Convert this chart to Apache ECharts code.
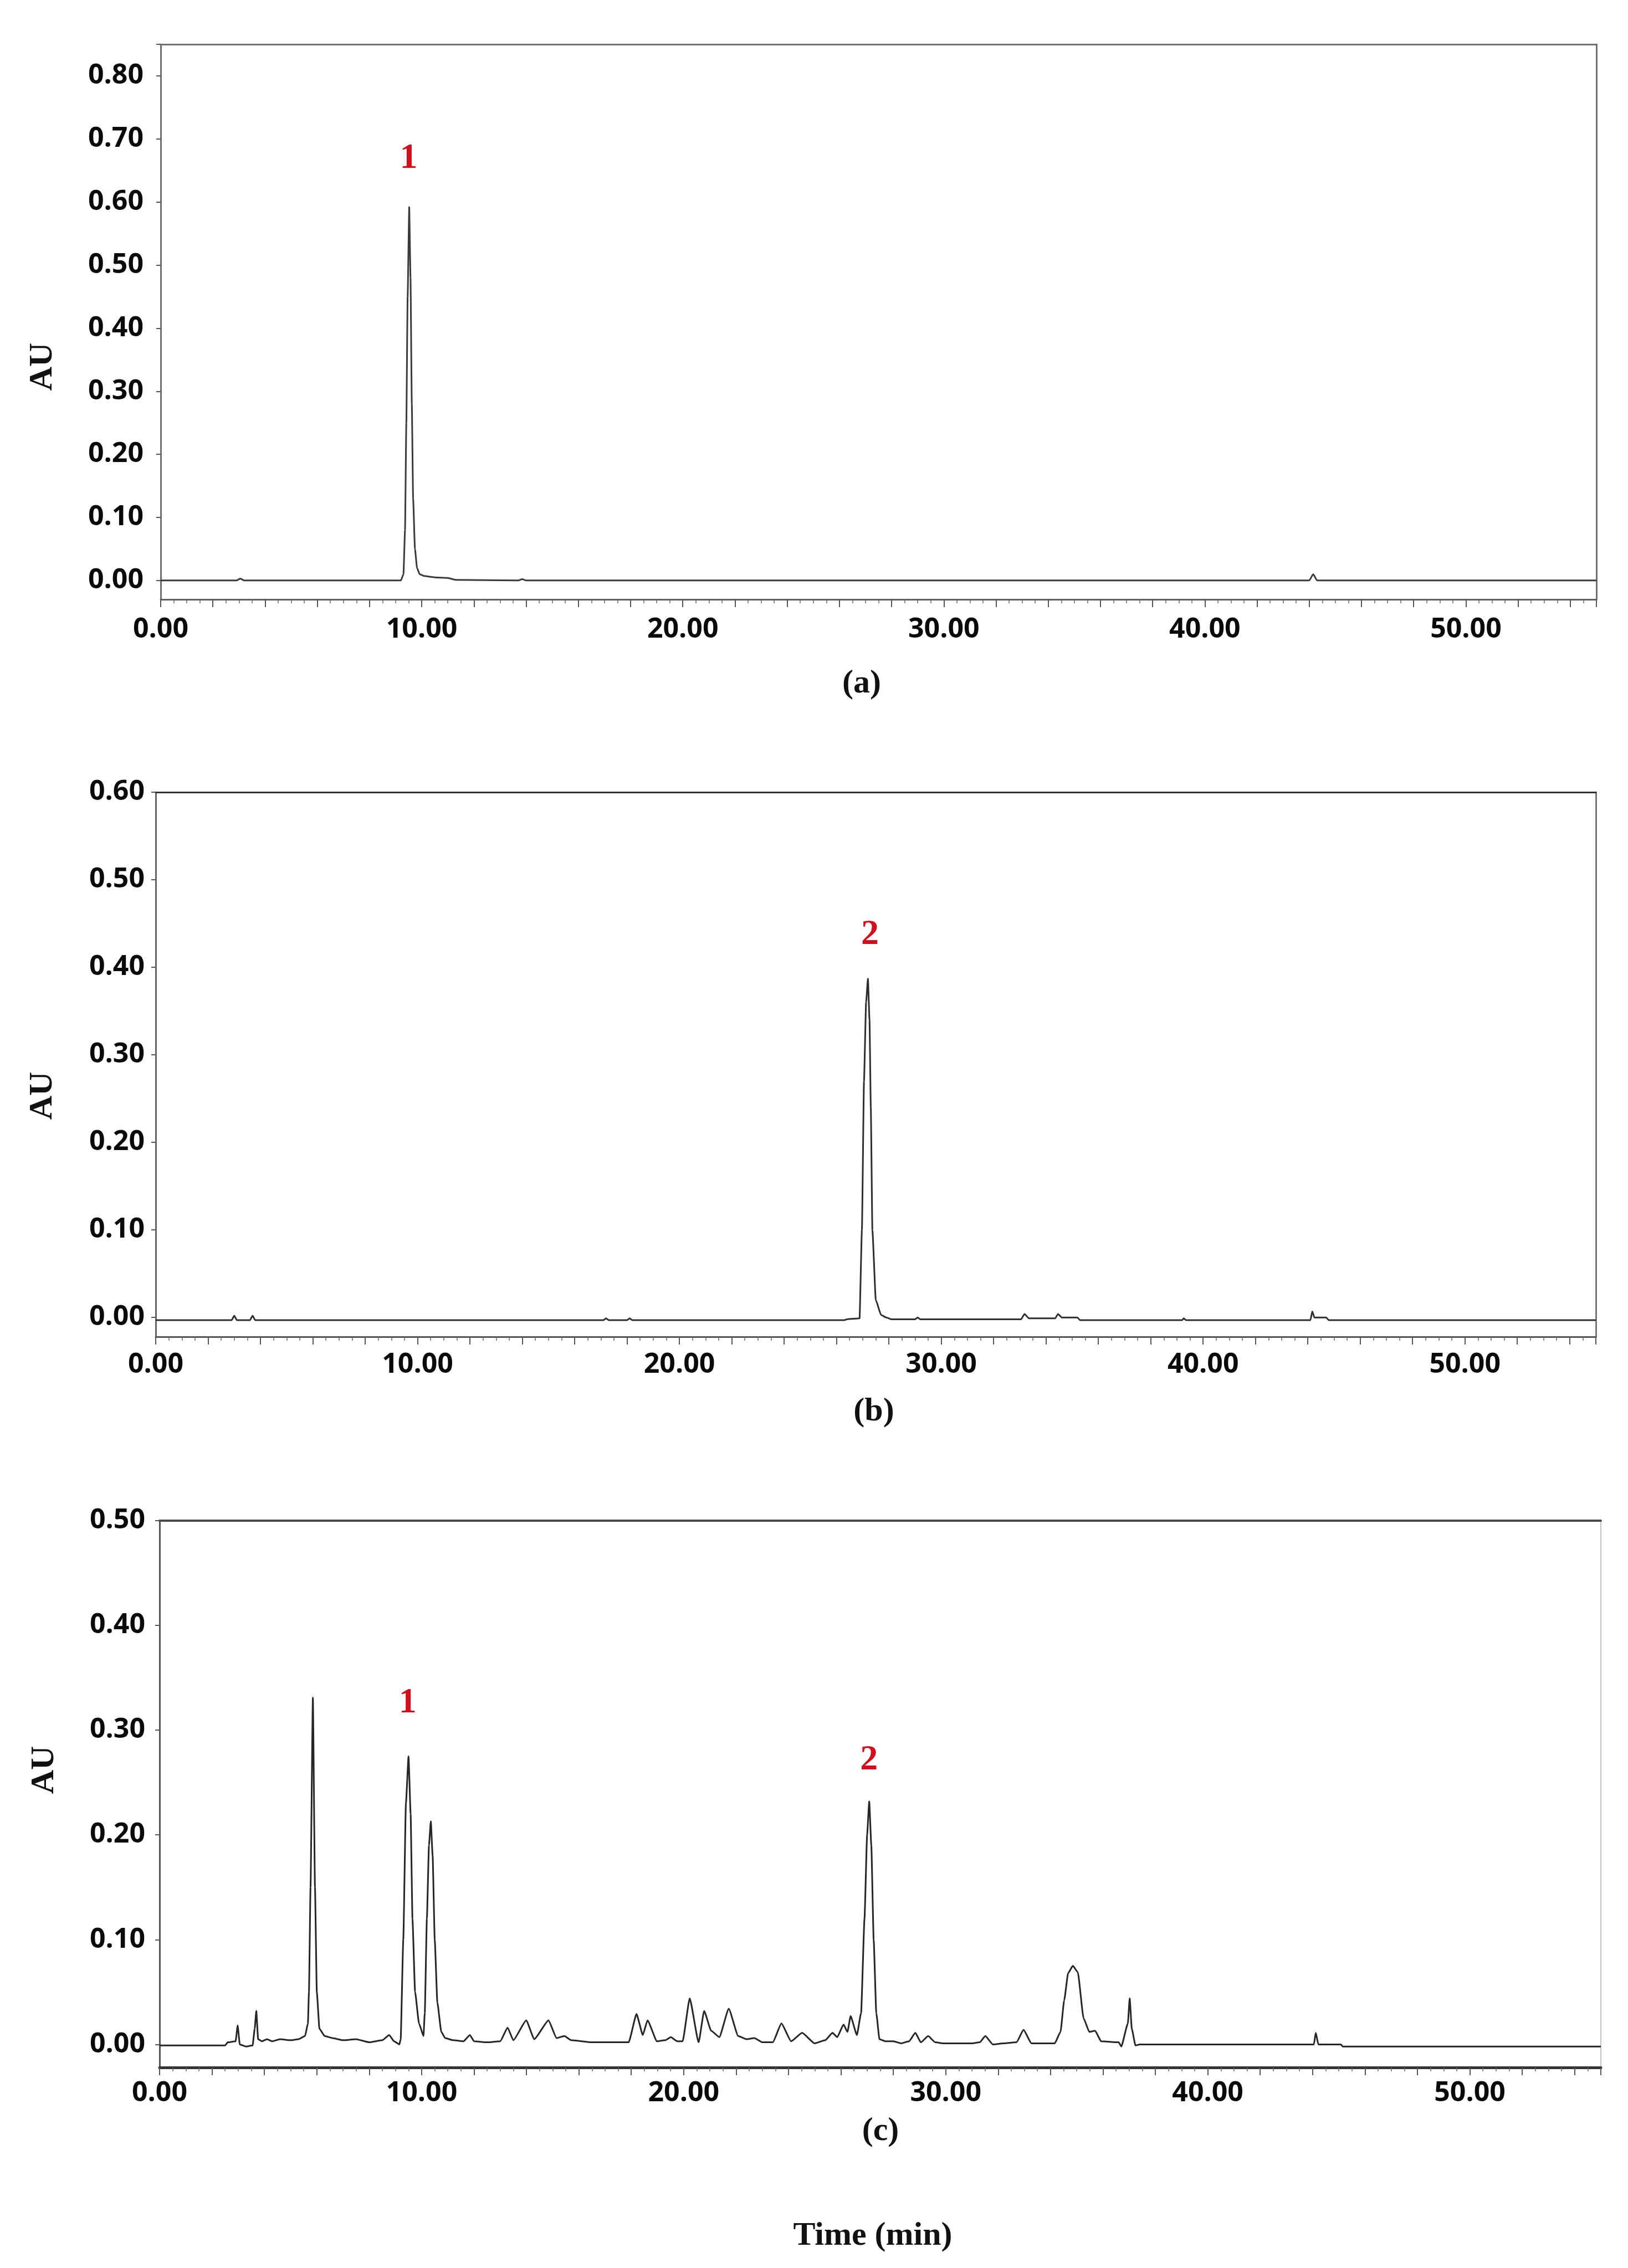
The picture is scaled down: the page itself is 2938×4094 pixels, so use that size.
<!DOCTYPE html>
<html><head><meta charset="utf-8">
<script src="https://cdn.jsdelivr.net/npm/echarts@6/dist/echarts.min.js"></script>
<style>html,body{margin:0;padding:0;background:#fff}#c{width:2938px;height:4094px}</style>
</head><body><div id="c"></div>
<script>
// ---- Data (time in min, absorbance in AU) ----
const timeA = [0, 2.9, 3.05, 3.2, 9.2, 9.3, 9.36, 9.41, 9.46, 9.52, 9.57, 9.62, 9.67, 9.74, 9.82, 9.92, 10.1, 10.5, 11.0, 11.3, 13.7, 13.85, 14.0, 44.0, 44.15, 44.3, 55];
const auA   = [0, 0, 0.003, 0, 0, 0.01, 0.08, 0.25, 0.45, 0.592, 0.48, 0.28, 0.13, 0.05, 0.02, 0.01, 0.007, 0.005, 0.004, 0.001, 0, 0.002, 0, 0, 0.01, 0, 0];

const timeB = [0, 2.9, 3.0, 3.1, 3.6, 3.7, 3.8, 17.1, 17.2, 17.3, 18.0, 18.1, 18.2, 26.3, 26.4, 26.88, 26.97, 27.05, 27.13, 27.2, 27.26, 27.31, 27.37, 27.5, 27.7, 27.9, 28.1, 29.0, 29.1, 29.2, 33.05, 33.18, 33.35, 34.35, 34.46, 34.6, 35.2, 35.3, 39.2, 39.26, 39.35, 44.1, 44.17, 44.25, 44.7, 44.8, 55];
const auB   = [-0.003, -0.003, 0.002, -0.003, -0.003, 0.002, -0.003, -0.003, -0.001, -0.003, -0.003, -0.001, -0.003, -0.003, -0.002, -0.001, 0.1, 0.27, 0.36, 0.387, 0.34, 0.24, 0.1, 0.02, 0.003, 0.0, -0.002, -0.002, 0.0, -0.002, -0.002, 0.004, -0.001, -0.001, 0.004, 0.0, 0.0, -0.003, -0.003, -0.001, -0.003, -0.003, 0.007, 0.0, 0.0, -0.003, -0.003];

const timeC = [0, 2.5, 2.6, 2.9, 2.98, 3.06, 3.3, 3.55, 3.63, 3.69, 3.76, 3.9, 4.1, 4.3, 4.6, 5.0, 5.3, 5.55, 5.66, 5.7, 5.76, 5.85, 5.93, 6.0, 6.1, 6.3, 6.6, 7.0, 7.5, 8.0, 8.5, 8.76, 8.95, 9.15, 9.2, 9.3, 9.4, 9.5, 9.58, 9.65, 9.75, 9.9, 10.07, 10.12, 10.2, 10.28, 10.35, 10.42, 10.5, 10.6, 10.75, 10.9, 11.2, 11.6, 11.84, 12.0, 12.5, 13.0, 13.28, 13.5, 13.99, 14.3, 14.84, 15.15, 15.45, 15.7, 16.5, 17.2, 17.9, 18.2, 18.44, 18.62, 18.98, 19.3, 19.51, 19.75, 19.96, 20.23, 20.57, 20.78, 21.05, 21.36, 21.72, 22.08, 22.4, 22.7, 23.0, 23.4, 23.73, 24.1, 24.52, 25.0, 25.4, 25.68, 25.86, 26.1, 26.25, 26.37, 26.61, 26.77, 26.9, 27.0, 27.08, 27.16, 27.25, 27.35, 27.47, 27.7, 28.0, 28.3, 28.6, 28.84, 29.05, 29.33, 29.6, 29.9, 31.0, 31.3, 31.51, 31.8, 32.2, 32.7, 32.97, 33.27, 34.16, 34.38, 34.52, 34.67, 34.85, 35.04, 35.26, 35.48, 35.7, 35.93, 36.6, 36.7, 36.95, 37.02, 37.1, 37.24, 37.4, 44.05, 44.12, 44.22, 45.08, 45.15, 55];
const auC   = [-0.001, -0.001, 0.002, 0.003, 0.018, 0.0, -0.002, -0.001, 0.015, 0.032, 0.005, 0.003, 0.005, 0.003, 0.005, 0.004, 0.005, 0.008, 0.02, 0.05, 0.15, 0.331, 0.15, 0.05, 0.015, 0.008, 0.006, 0.004, 0.005, 0.002, 0.004, 0.009, 0.003, 0.0, 0.005, 0.1, 0.23, 0.275, 0.22, 0.12, 0.05, 0.02, 0.008, 0.03, 0.12, 0.19, 0.213, 0.18, 0.1, 0.04, 0.012, 0.006, 0.004, 0.003, 0.009, 0.003, 0.002, 0.003, 0.016, 0.004, 0.023, 0.005, 0.023, 0.006, 0.008, 0.004, 0.002, 0.002, 0.002, 0.029, 0.009, 0.023, 0.003, 0.004, 0.007, 0.003, 0.003, 0.044, 0.002, 0.032, 0.013, 0.007, 0.034, 0.008, 0.005, 0.006, 0.002, 0.002, 0.02, 0.003, 0.011, 0.001, 0.004, 0.011, 0.007, 0.019, 0.012, 0.027, 0.009, 0.03, 0.12, 0.2, 0.232, 0.19, 0.1, 0.03, 0.005, 0.003, 0.003, 0.001, 0.003, 0.011, 0.002, 0.008, 0.002, 0.001, 0.001, 0.002, 0.008, 0.0, 0.001, 0.002, 0.014, 0.001, 0.001, 0.012, 0.042, 0.068, 0.075, 0.069, 0.025, 0.012, 0.013, 0.003, 0.002, -0.002, 0.02, 0.044, 0.015, -0.001, 0.0, 0.0, 0.011, 0.0, 0.0, -0.002, -0.002];

// axis ranges and tick labels
const timeRange = [0, 55];
const auRanges = [[-0.03, 0.85], [-0.022, 0.60], [-0.022, 0.50]];
const xTickLabels = ['0.00', '10.00', '20.00', '30.00', '40.00', '50.00'];
const panelCaptions = ['(a)', '(b)', '(c)'];
// peak annotations: panel, label, time, AU position of the label
const peakPanel = [0, 1, 2, 2];
const peakName  = ['1', '2', '1', '2'];
const peakTime  = [9.5, 27.28, 9.47, 27.07];
const peakAU    = [0.669, 0.437, 0.326, 0.2715];

// ---- layout / style ----
const grids = [
  {left: 290, top: 80, width: 2591, height: 1002},
  {left: 281, top: 1430, width: 2599, height: 983},
  {left: 288, top: 2745, width: 2601, height: 987}
];
const yLabelMargin = [31, 20, 26];
const xLabelMargin = [30, 26, 22];
const frame = [
  {top: ['#707070', 3], bottom: ['#606060', 3], left: ['#707070', 3], right: ['#707070', 3]},
  {top: ['#333333', 3], bottom: ['#555555', 3], left: ['#666666', 3], right: ['#777777', 3]},
  {top: ['#4a4a4a', 4], bottom: ['#333333', 5], left: ['#555555', 3], right: ['#c4c4c4', 2]}
];
const lineColor = ['#3a3a3a', '#2e2e2e', '#262626'];
const labelFont = {fontFamily: 'Open Sans', fontWeight: 'bold', fontSize: 50, color: '#0a0a0a'};
const serif = 'Liberation Serif';

const series = [[timeA, auA], [timeB, auB], [timeC, auC]];

const xAxes = [], yAxes = [], seriesOpt = [];
grids.forEach((g, i) => {
  const f = frame[i];
  xAxes.push({
    gridIndex: i, type: 'value', position: 'bottom',
    min: timeRange[0], max: timeRange[1], interval: 2,
    axisLine: {show: true, onZero: false, lineStyle: {color: f.bottom[0], width: f.bottom[1]}},
    axisTick: {show: true, inside: false, length: 14, lineStyle: {color: '#555', width: 2}},
    minorTick: {show: true, splitNumber: 4, length: 7, lineStyle: {color: '#666', width: 1.5}},
    splitLine: {show: false},
    axisLabel: Object.assign({margin: xLabelMargin[i], formatter: v => {
      const k = Math.round(v / 10);
      return (Math.abs(v - k * 10) < 1e-9 && k >= 0 && k < xTickLabels.length) ? xTickLabels[k] : '';
    }}, labelFont)
  });
  xAxes.push({
    gridIndex: i, type: 'value', position: 'top',
    min: timeRange[0], max: timeRange[1],
    axisLine: {show: true, onZero: false, lineStyle: {color: f.top[0], width: f.top[1]}},
    axisTick: {show: false}, axisLabel: {show: false}, splitLine: {show: false}
  });
  yAxes.push({
    gridIndex: i, type: 'value', position: 'left',
    min: auRanges[i][0], max: auRanges[i][1], minInterval: 0.1, maxInterval: 0.1,
    axisLine: {show: true, onZero: false, lineStyle: {color: f.left[0], width: f.left[1]}},
    axisTick: {show: true, length: 8, lineStyle: {color: '#555', width: 2}},
    splitLine: {show: false},
    axisLabel: Object.assign({margin: yLabelMargin[i], showMinLabel: false, formatter: v => {
      const k = Math.round(v * 10);
      return (Math.abs(v * 10 - k) < 1e-6 && k >= 0) ? (k / 10).toFixed(2) : '';
    }}, labelFont)
  });
  yAxes.push({
    gridIndex: i, type: 'value', position: 'right',
    min: auRanges[i][0], max: auRanges[i][1],
    axisLine: {show: true, onZero: false, lineStyle: {color: f.right[0], width: f.right[1]}},
    axisTick: {show: false}, axisLabel: {show: false}, splitLine: {show: false}
  });
  const marks = [];
  peakPanel.forEach((p, j) => { if (p === i) marks.push({name: peakName[j], coord: [peakTime[j], peakAU[j]]}); });
  seriesOpt.push({
    type: 'line', xAxisIndex: 2 * i, yAxisIndex: 2 * i,
    data: series[i][0].map((t, j) => [t, series[i][1][j]]),
    showSymbol: false, smooth: 0.15, smoothMonotone: 'x',
    lineStyle: {color: lineColor[i], width: 3},
    markPoint: {
      symbol: 'circle', symbolSize: 1, itemStyle: {color: 'rgba(0,0,0,0)'},
      label: {show: true, position: 'inside', formatter: '{b}', color: '#d0101c',
              fontFamily: serif, fontWeight: 'bold', fontSize: 64},
      data: marks
    }
  });
});

const graphics = [];
const auPos = [[77, 662], [77, 1978], [80, 3195]];
const capPos = [[1555, 1234], [1577, 2548], [1589, 3847]];
for (let i = 0; i < 3; i++) {
  graphics.push({type: 'text', x: auPos[i][0], y: auPos[i][1], rotation: Math.PI / 2,
    style: {text: 'AU', fill: '#111', font: 'bold 60px "Liberation Serif"', align: 'center', verticalAlign: 'middle'}});
  graphics.push({type: 'text', x: capPos[i][0], y: capPos[i][1],
    style: {text: panelCaptions[i], fill: '#111', font: 'bold 60px "Liberation Serif"', align: 'center', verticalAlign: 'middle'}});
}
graphics.push({type: 'text', x: 1575, y: 4036,
  style: {text: 'Time (min)', fill: '#111', font: 'bold 60px "Liberation Serif"', align: 'center', verticalAlign: 'middle'}});

const chart = echarts.init(document.getElementById('c'), null, {renderer: 'canvas'});
chart.setOption({
  animation: false,
  backgroundColor: '#ffffff',
  grid: grids.map(g => Object.assign({show: false, containLabel: false}, g)),
  xAxis: xAxes,
  yAxis: yAxes,
  series: seriesOpt,
  graphic: graphics
});
</script></body></html>
